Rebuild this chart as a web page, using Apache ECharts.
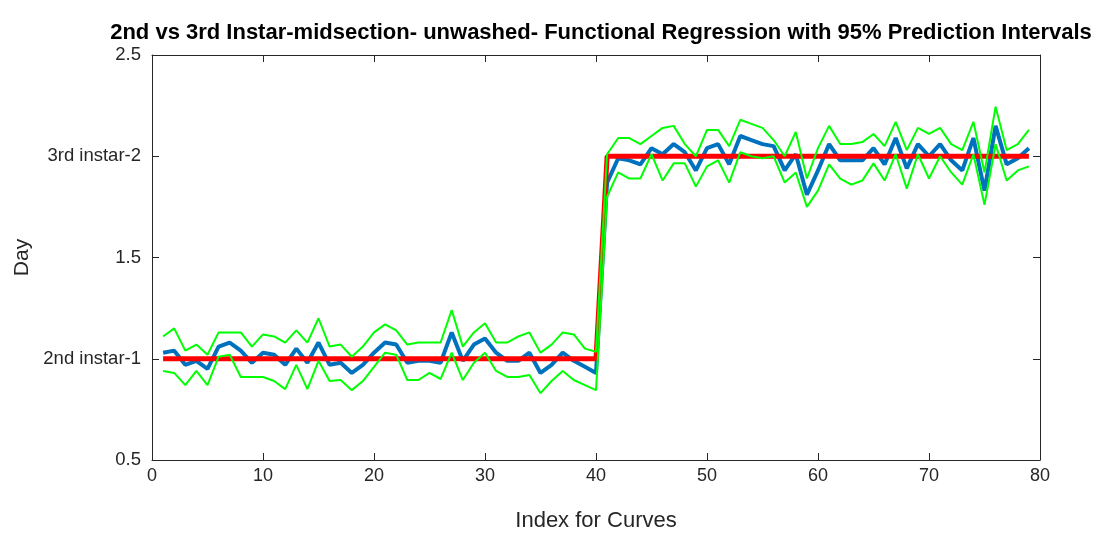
<!DOCTYPE html>
<html>
<head>
<meta charset="utf-8">
<script src="https://cdn.jsdelivr.net/npm/echarts@6/dist/echarts.min.js"></script>
<style>
html,body{margin:0;padding:0;background:#fff;}
#chart{width:1101px;height:539px;}
</style>
</head>
<body>
<div id="chart"></div>
<script>
const curveIndex = [1,2,3,4,5,6,7,8,9,10,11,12,13,14,15,16,17,18,19,20,21,22,23,24,25,26,27,28,29,30,31,32,33,34,35,36,37,38,39,40,41,42,43,44,45,46,47,48,49,50,51,52,53,54,55,56,57,58,59,60,61,62,63,64,65,66,67,68,69,70,71,72,73,74,75,76,77,78,79];
const trueDay = [1,1,1,1,1,1,1,1,1,1,1,1,1,1,1,1,1,1,1,1,1,1,1,1,1,1,1,1,1,1,1,1,1,1,1,1,1,1,1,1,2,2,2,2,2,2,2,2,2,2,2,2,2,2,2,2,2,2,2,2,2,2,2,2,2,2,2,2,2,2,2,2,2,2,2,2,2,2,2];
const fitted = [1.03,1.04,0.97,0.99,0.95,1.06,1.08,1.04,0.98,1.03,1.02,0.97,1.05,0.98,1.08,0.97,0.98,0.93,0.97,1.03,1.08,1.07,0.98,0.99,0.99,0.98,1.13,0.99,1.07,1.10,1.03,0.99,0.99,1.03,0.93,0.97,1.03,0.99,0.96,0.93,1.87,1.99,1.98,1.96,2.04,2.01,2.06,2.02,1.93,2.04,2.06,1.96,2.10,2.08,2.06,2.05,1.93,2.01,1.81,1.93,2.06,1.98,1.98,1.98,2.04,1.96,2.09,1.94,2.06,2.00,2.06,1.98,1.93,2.09,1.83,2.15,1.96,1.99,2.04];
const upperPI = [1.11,1.15,1.04,1.07,1.02,1.13,1.13,1.13,1.06,1.12,1.11,1.08,1.14,1.08,1.20,1.06,1.07,1.01,1.06,1.13,1.17,1.14,1.07,1.08,1.08,1.08,1.24,1.06,1.13,1.175,1.08,1.08,1.11,1.13,1.03,1.07,1.13,1.12,1.05,1.035,2.01,2.09,2.09,2.06,2.10,2.14,2.15,2.06,2.00,2.13,2.13,2.05,2.18,2.16,2.14,2.08,2.00,2.12,1.89,2.04,2.15,2.06,2.06,2.07,2.11,2.05,2.17,2.03,2.14,2.11,2.14,2.06,2.03,2.17,1.92,2.245,2.03,2.06,2.13];
const lowerPI = [0.94,0.93,0.87,0.94,0.87,1.01,1.02,0.91,0.91,0.91,0.89,0.85,0.97,0.85,0.99,0.89,0.895,0.845,0.89,0.96,1.03,1.02,0.895,0.895,0.93,0.90,1.03,0.895,0.98,1.03,0.94,0.91,0.91,0.92,0.83,0.89,0.94,0.895,0.87,0.845,1.80,1.92,1.89,1.89,2.01,1.88,1.965,1.965,1.85,1.95,1.98,1.87,2.02,2.00,1.99,2.00,1.87,1.92,1.75,1.83,1.96,1.89,1.86,1.88,1.965,1.88,2.01,1.84,2.01,1.89,2.00,1.92,1.86,2.01,1.76,2.06,1.88,1.93,1.95];
const yTickLabels = {'0.5':'0.5','1':'2nd instar-1','1.5':'1.5','2':'3rd instar-2','2.5':'2.5'};
const xTicks = [0,10,20,30,40,50,60,70,80];

const FONT = "'Liberation Sans', Arial, sans-serif";
const pair = arr => curveIndex.map((x, i) => [x, arr[i]]);
const axisColor = '#262626';
const chart = echarts.init(document.getElementById('chart'), null, {renderer: 'canvas'});
const axisCommon = {
  axisLine: {show: true, onZero: false, lineStyle: {color: axisColor, width: 1}},
  axisTick: {show: true, inside: true, length: 7, lineStyle: {color: axisColor}},
  splitLine: {show: false}
};
chart.setOption({
  animation: false,
  backgroundColor: '#fff',
  title: {
    text: '2nd vs 3rd Instar-midsection- unwashed- Functional Regression with 95% Prediction Intervals',
    left: 596, top: 17, textAlign: 'center',
    textStyle: {fontFamily: FONT, fontSize: 22, fontWeight: 'bold', color: '#000'}
  },
  grid: {left: 152, right: 61, top: 55, bottom: 79, containLabel: false},
  xAxis: [
    Object.assign({type: 'value', min: 0, max: 80, interval: 10, position: 'bottom',
      name: 'Index for Curves', nameLocation: 'middle', nameGap: 50,
      nameTextStyle: {fontFamily: FONT, fontSize: 22, color: axisColor},
      axisLabel: {fontFamily: FONT, fontSize: 18, color: axisColor, margin: 7}}, axisCommon),
    Object.assign({type: 'value', min: 0, max: 80, interval: 10, position: 'top',
      axisLabel: {show: false}}, axisCommon)
  ],
  yAxis: [
    Object.assign({type: 'value', min: 0.5, max: 2.5, interval: 0.5, position: 'left',
      name: 'Day', nameLocation: 'middle', nameGap: 116, nameRotate: 90,
      nameTextStyle: {fontFamily: FONT, fontSize: 21, color: axisColor},
      axisLabel: {fontFamily: FONT, fontSize: 18.5, color: axisColor, margin: 11,
        formatter: v => yTickLabels[String(v)] !== undefined ? yTickLabels[String(v)] : ''}}, axisCommon),
    Object.assign({type: 'value', min: 0.5, max: 2.5, interval: 0.5, position: 'right',
      axisLabel: {show: false}}, axisCommon)
  ],
  series: [
    {type: 'line', data: pair(fitted), showSymbol: false, symbol: 'none', z: 2,
      lineStyle: {color: '#0072BD', width: 4}},
    {type: 'line', data: pair(trueDay), showSymbol: false, symbol: 'none', z: 3,
      lineStyle: {color: '#FF0000', width: 5}},
    {type: 'line', data: pair(upperPI), showSymbol: false, symbol: 'none', z: 4,
      lineStyle: {color: '#00FF00', width: 2}},
    {type: 'line', data: pair(lowerPI), showSymbol: false, symbol: 'none', z: 4,
      lineStyle: {color: '#00FF00', width: 2}}
  ]
});
</script>
</body>
</html>
